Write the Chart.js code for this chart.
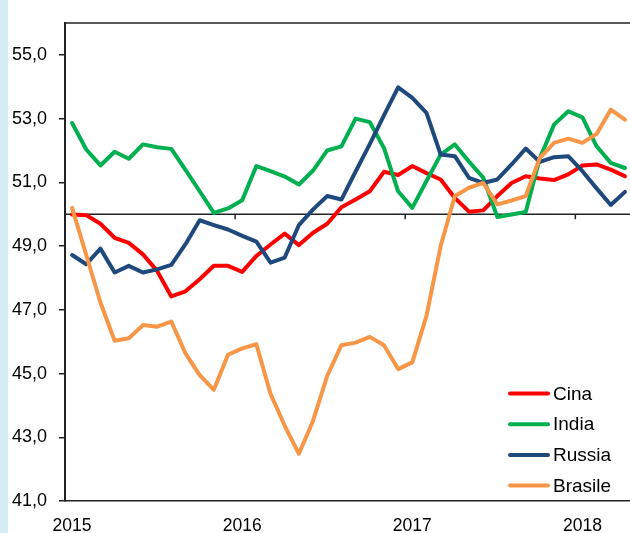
<!DOCTYPE html>
<html>
<head>
<meta charset="utf-8">
<script src="https://cdn.jsdelivr.net/npm/chart.js@4.4.1/dist/chart.umd.min.js"></script>
<style>
  html, body { margin: 0; padding: 0; background: #ffffff; }
  #wrap { position: relative; width: 630px; height: 533px; overflow: hidden; background: #ffffff; }
  #strip { position: absolute; left: 0; top: 0; width: 8px; height: 533px; background: #d4ecf3; z-index: 2; }
  #chartBox { position: absolute; left: 0; top: 0; width: 640px; height: 533px; }
</style>
</head>
<body>
<div id="wrap">
  <div id="strip"></div>
  <div id="chartBox"><canvas id="c" width="640" height="533"></canvas></div>
</div>
<script>
const categories = [
  "2015-01","2015-02","2015-03","2015-04","2015-05","2015-06","2015-07","2015-08","2015-09","2015-10","2015-11","2015-12",
  "2016-01","2016-02","2016-03","2016-04","2016-05","2016-06","2016-07","2016-08","2016-09","2016-10","2016-11","2016-12",
  "2017-01","2017-02","2017-03","2017-04","2017-05","2017-06","2017-07","2017-08","2017-09","2017-10","2017-11","2017-12",
  "2018-01","2018-02","2018-03","2018-04"
];
const seriesNames = ["Cina", "India", "Russia", "Brasile"];
const cina = [49.99,49.97,49.70,49.26,49.10,48.74,48.22,47.42,47.58,47.96,48.38,48.38,48.19,48.69,49.05,49.39,49.03,49.42,49.70,50.22,50.46,50.72,51.33,51.23,51.51,51.29,51.09,50.51,50.08,50.12,50.57,50.98,51.19,51.12,51.07,51.25,51.53,51.56,51.40,51.19];
const india = [52.86,52.03,51.53,51.96,51.74,52.19,52.10,52.05,51.39,50.72,50.04,50.18,50.44,51.51,51.35,51.18,50.93,51.37,52.00,52.13,53.00,52.89,52.08,50.72,50.20,51.04,51.87,52.19,51.65,51.15,49.91,49.99,50.07,51.76,52.81,53.23,53.04,52.13,51.61,51.45];
const russia = [48.72,48.43,48.92,48.17,48.38,48.17,48.27,48.41,49.06,49.81,49.66,49.52,49.32,49.14,48.48,48.64,49.66,50.15,50.57,50.46,51.34,52.20,53.10,53.98,53.65,53.18,51.87,51.82,51.14,50.98,51.09,51.56,52.06,51.64,51.79,51.82,51.35,50.81,50.29,50.70];
const brasile = [50.20,48.72,47.23,46.03,46.11,46.52,46.47,46.63,45.63,44.95,44.49,45.59,45.79,45.92,44.36,43.36,42.48,43.52,44.93,45.89,45.97,46.15,45.89,45.14,45.35,46.81,49.00,50.57,50.83,50.98,50.31,50.43,50.57,51.77,52.24,52.37,52.24,52.52,53.28,52.97];
const yTickValues = [41,43,45,47,49,51,53,55];
const referenceLevel = 50;
const yearBoundaries = [11.5, 23.5, 35.5];

const colors = ["#ff0000", "#00b050", "#1f497d", "#f79646"];
const FONT = "'Liberation Sans', Arial, sans-serif";

const refLinePlugin = {
  id: 'refLine',
  beforeDatasetsDraw(chart) {
    const { ctx, chartArea, scales } = chart;
    const y = scales.y.getPixelForValue(referenceLevel);
    ctx.save();
    ctx.strokeStyle = '#222222';
    ctx.lineWidth = 1.5;
    ctx.beginPath();
    ctx.moveTo(chartArea.left, y);
    ctx.lineTo(chartArea.right, y);
    ctx.stroke();
    yearBoundaries.forEach(b => {
      const x = scales.x.getPixelForValue(b);
      ctx.beginPath();
      ctx.moveTo(x, y);
      ctx.lineTo(x, y + 5);
      ctx.stroke();
    });
    ctx.beginPath();
    ctx.moveTo(chartArea.left, chartArea.top);
    ctx.lineTo(chartArea.right, chartArea.top);
    ctx.stroke();
    ctx.restore();
  }
};

const legendPlugin = {
  id: 'customLegend',
  afterDraw(chart) {
    const { ctx } = chart;
    ctx.save();
    ctx.font = "19px " + FONT;
    ctx.textBaseline = 'middle';
    ctx.textAlign = 'left';
    chart.data.datasets.forEach((ds, i) => {
      const y = 393.5 + i * 30.7;
      ctx.strokeStyle = ds.borderColor;
      ctx.lineWidth = 4;
      ctx.lineCap = 'round';
      ctx.beginPath();
      ctx.moveTo(510, y);
      ctx.lineTo(548, y);
      ctx.stroke();
      ctx.fillStyle = '#000000';
      ctx.fillText(ds.label, 553, y + 1);
    });
    ctx.restore();
  }
};

const seriesData = [cina, india, russia, brasile];
const datasets = seriesNames.map((name, i) => ({
  label: name,
  data: seriesData[i],
  borderColor: colors[i],
  backgroundColor: colors[i],
  borderWidth: 4,
  pointRadius: 0,
  tension: 0,
  borderJoinStyle: 'round',
  borderCapStyle: 'round',
  order: 3 - i
}));

new Chart(document.getElementById('c'), {
  type: 'line',
  data: { labels: categories, datasets },
  options: {
    responsive: false,
    animation: false,
    events: [],
    layout: { padding: { top: 23, right: 4, left: 0, bottom: 0 } },
    plugins: { legend: { display: false }, tooltip: { enabled: false }, title: { display: false } },
    scales: {
      x: {
        type: 'category',
        offset: true,
        grid: { display: false, drawTicks: false },
        border: { display: true, color: '#222222', width: 1.5 },
        ticks: {
          autoSkip: false,
          maxRotation: 0,
          minRotation: 0,
          color: '#000000',
          font: { family: FONT, size: 17.5 },
          padding: 15,
          callback: (v, i) => categories[i].endsWith('-01') ? categories[i].slice(0, 4) : ''
        },
        afterFit: s => { s.height = 32; }
      },
      y: {
        min: 41,
        max: 56,
        afterBuildTicks: s => { s.ticks = yTickValues.map(v => ({ value: v })); },
        grid: { display: true, drawOnChartArea: false, drawTicks: true, tickLength: 6, color: '#222222', lineWidth: 1.5 },
        border: { display: true, color: '#222222', width: 2 },
        ticks: {
          color: '#000000',
          font: { family: FONT, size: 18 },
          padding: 12,
          callback: v => v.toFixed(1).replace('.', ',')
        },
        afterFit: s => { s.width = 65; }
      }
    }
  },
  plugins: [refLinePlugin, legendPlugin]
});
</script>
</body>
</html>
